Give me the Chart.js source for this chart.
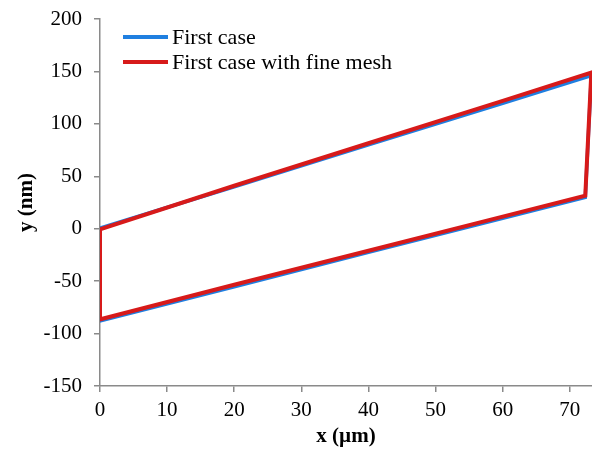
<!DOCTYPE html>
<html>
<head>
<meta charset="utf-8">
<script src="https://cdn.jsdelivr.net/npm/chart.js@4.4.1/dist/chart.umd.min.js"></script>
<style>
  body { margin: 0; background: #fff; }
  #wrap { position: relative; width: 592px; height: 453px; }
  #legend { position: absolute; left: 123px; top: 24px; font-family: "Liberation Serif", "Times New Roman", serif; font-size: 22px; color: #000; }
  .item { display: flex; align-items: center; height: 25px; }
  .swatch { width: 45px; height: 4px; margin-right: 4px; }
</style>
</head>
<body>
<div id="wrap">
  <canvas id="chart" width="592" height="453"></canvas>
  <div id="legend"></div>
</div>
<script>
// series values (closed loop: top edge, right drop, bottom edge, left rise)
const seriesLabels = ['First case', 'First case with fine mesh']
const seriesColors = ['#1f7fe0', '#d71a1a']

const coarseX = [0, 20, 40, 60, 73.2, 72.3, 60, 40, 20, 0, 0]
const coarseY = [0.5, 40, 80, 119.5, 146, 30, 10, -22.5, -55.5, -88, 0.5]

const fineX = [0, 20, 40, 60, 73.2, 72.3, 60, 40, 20, 0, 0]
const fineY = [-0.5, 41, 81.5, 122, 149, 31.5, 11.5, -21, -53.5, -86.5, -0.5]

const xTicks = [0, 10, 20, 30, 40, 50, 60, 70]
const yTicks = [-150, -100, -50, 0, 50, 100, 150, 200]

const toPoints = (xs, ys) => xs.map((x, i) => ({ x: x, y: ys[i] }))

const serif = '"Liberation Serif", "Times New Roman", serif'
const axisGrey = '#8a8a8a'

const ctx = document.getElementById('chart').getContext('2d')
const chart = new Chart(ctx, {
  type: 'scatter',
  data: {
    datasets: [
      {
        label: seriesLabels[0],
        data: toPoints(coarseX, coarseY),
        showLine: true,
        borderColor: seriesColors[0],
        backgroundColor: seriesColors[0],
        borderWidth: 3.5,
        pointRadius: 0,
        tension: 0,
        order: 1
      },
      {
        label: seriesLabels[1],
        data: toPoints(fineX, fineY),
        showLine: true,
        borderColor: seriesColors[1],
        backgroundColor: seriesColors[1],
        borderWidth: 4,
        pointRadius: 0,
        tension: 0,
        order: 0
      }
    ]
  },
  options: {
    responsive: false,
    devicePixelRatio: 1,
    animation: false,
    layout: { padding: { top: 19, right: 0, bottom: 0, left: 0 } },
    plugins: {
      legend: { display: false },
      tooltip: { enabled: false }
    },
    scales: {
      x: {
        type: 'linear',
        min: 0,
        max: 73.3,
        afterFit: (scale) => { scale.height = 67 },
        afterBuildTicks: (scale) => { scale.ticks = xTicks.map(v => ({ value: v })) },
        border: { display: true, color: axisGrey, width: 1.5 },
        grid: { display: true, drawOnChartArea: false, drawTicks: true, tickLength: 6, color: axisGrey, lineWidth: 1.5 },
        ticks: { color: '#000', font: { family: serif, size: 21 }, padding: 6, maxRotation: 0, includeBounds: false },
        title: { display: true, text: 'x (µm)', color: '#000', font: { family: serif, size: 21, weight: 'bold' }, padding: { top: 0, bottom: 4 } }
      },
      y: {
        type: 'linear',
        min: -150,
        max: 200,
        afterFit: (scale) => {
          scale.width = 100
          // let layout.padding decide where the plot starts
          scale.paddingTop = 0
          scale.paddingBottom = 0
        },
        afterBuildTicks: (scale) => { scale.ticks = yTicks.map(v => ({ value: v })) },
        border: { display: true, color: axisGrey, width: 1.5 },
        grid: { display: true, drawOnChartArea: false, drawTicks: true, tickLength: 6, color: axisGrey, lineWidth: 1.5 },
        ticks: { color: '#000', font: { family: serif, size: 21 }, padding: 12 },
        title: { display: true, text: 'y (nm)', color: '#000', font: { family: serif, size: 21, weight: 'bold' }, padding: { top: 14, bottom: 0 } }
      }
    }
  }
})

// legend inside the plot, top left, like the original
const legend = document.getElementById('legend')
seriesLabels.forEach((label, i) => {
  const item = document.createElement('div')
  item.className = 'item'
  item.innerHTML = `<span class="swatch" style="background:${seriesColors[i]}"></span><span>${label}</span>`
  legend.appendChild(item)
})
</script>
</body>
</html>
